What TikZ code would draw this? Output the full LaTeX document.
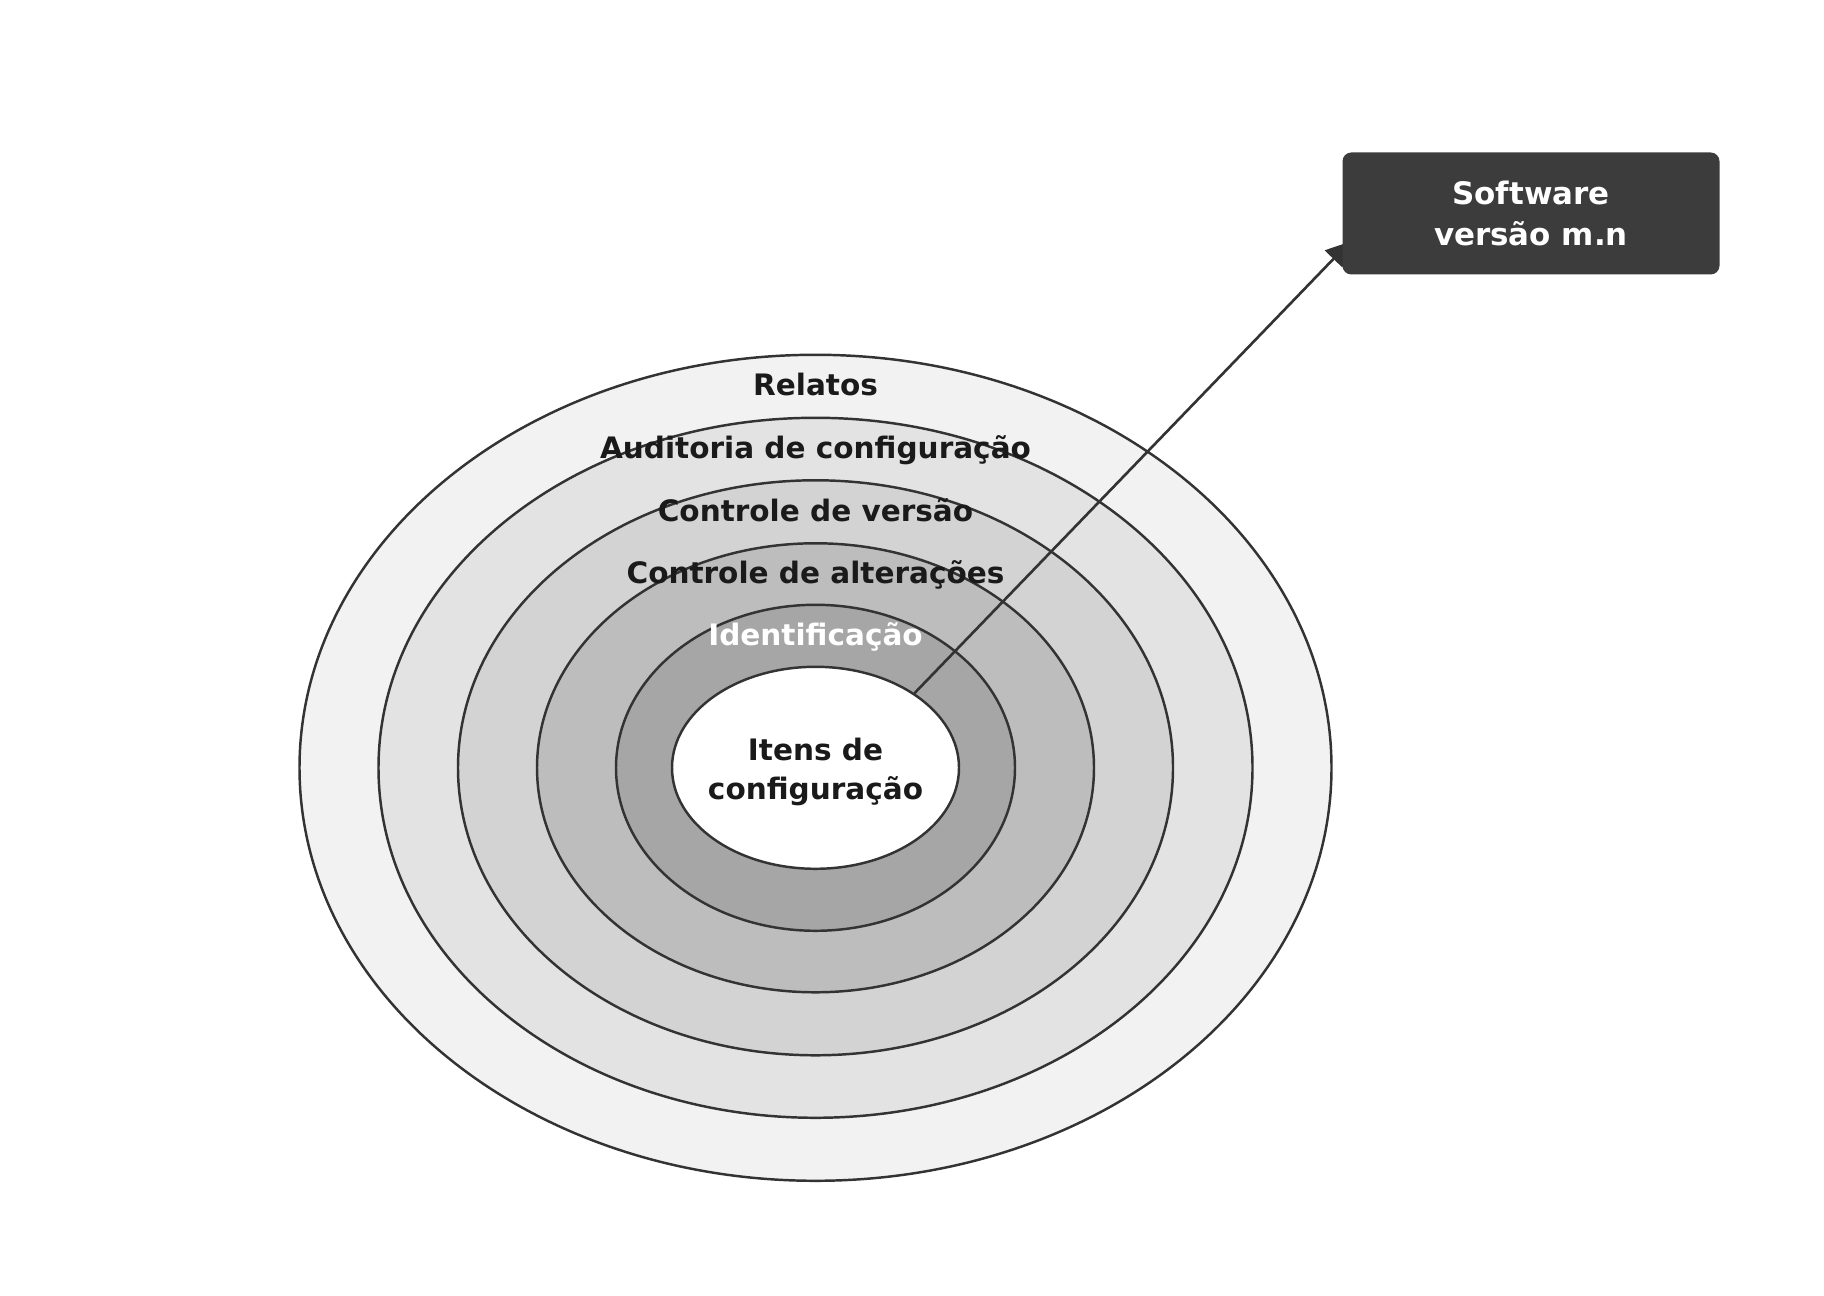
\documentclass[tikz,border=0pt]{standalone}
\usepackage{fontspec}
\setmainfont{DejaVu Sans}
\usetikzlibrary{shapes.geometric, arrows.meta, positioning, calc}
\definecolor{cLine}{RGB}{51,51,51}
\definecolor{cText}{RGB}{26,26,26}
\definecolor{cBox}{RGB}{60,60,60}
\definecolor{cRingA}{RGB}{242,242,242}
\definecolor{cRingB}{RGB}{227,227,227}
\definecolor{cRingC}{RGB}{211,211,211}
\definecolor{cRingD}{RGB}{189,189,189}
\definecolor{cRingE}{RGB}{166,166,166}
\pgfdeclarelayer{front}
\pgfsetlayers{main,front}
\tikzset{
	ring/.style    ={ellipse, draw=cLine, line width=0.7pt, inner sep=0pt},
	lbl/.style     ={font=\fontsize{8.4}{11}\selectfont\bfseries, text=cText, inner sep=0pt, text height=0.21cm, text depth=0pt},
	tagbox/.style  ={rectangle, rounded corners=2.5pt, fill=cBox, text=white, align=center, minimum width=3.77cm, minimum height=1.22cm, font=\fontsize{8.8}{11.5}\selectfont\bfseries},
	pointer/.style ={-{Triangle[length=2.4mm, width=2.4mm]}, line width=0.75pt, draw=cLine, fill=cLine, shorten >=-1.2mm},
}
\begin{document}
\begin{tikzpicture}
	\useasboundingbox (0,0) rectangle (18.24,12.96);
	\coordinate (c) at (8.155,5.282);
	% rings, outside in
	\node[ring, fill=cRingA, minimum width=10.32cm, minimum height=8.26cm] (relatos) at (c) {};
	\node[ring, fill=cRingB, minimum width=8.74cm, minimum height=7.00cm] (auditoria) at (c) {};
	\node[ring, fill=cRingC, minimum width=7.15cm, minimum height=5.75cm] (versao) at (c) {};
	\node[ring, fill=cRingD, minimum width=5.57cm, minimum height=4.49cm] (alteracoes) at (c) {};
	\node[ring, fill=cRingE, minimum width=3.99cm, minimum height=3.26cm] (identif) at (c) {};
	\node[ring, fill=white, minimum width=2.87cm, minimum height=2.02cm] (itens) at (c) {};
	% ring labels
	\node[lbl] (lRelatos) at ($(relatos.north)!0.5!(auditoria.north)$) {Relatos};
	\node[lbl] (lAuditoria) at ($(auditoria.north)!0.5!(versao.north)$) {Auditoria de configuração};
	\node[lbl] (lVersao) at ($(versao.north)!0.5!(alteracoes.north)$) {Controle de versão};
	\node[lbl] (lAlteracoes) at ($(alteracoes.north)!0.5!(identif.north)$) {Controle de alterações};
	\node[lbl, text=white] (lIdentif) at ($(identif.north)!0.5!(itens.north)$) {Identificação};
	\node[lbl, align=center, text height=, text depth=] (lItens) at ($(itens)+(0,-0.04)$) {Itens de\\configuração};
	% version tag
	\begin{pgfonlayer}{front}
		\node[tagbox] (software) at (15.31,10.825) {Software\\versão m.n};
	\end{pgfonlayer}
	\draw[pointer] (itens.37) -- (software.191);
\end{tikzpicture}
\end{document}
